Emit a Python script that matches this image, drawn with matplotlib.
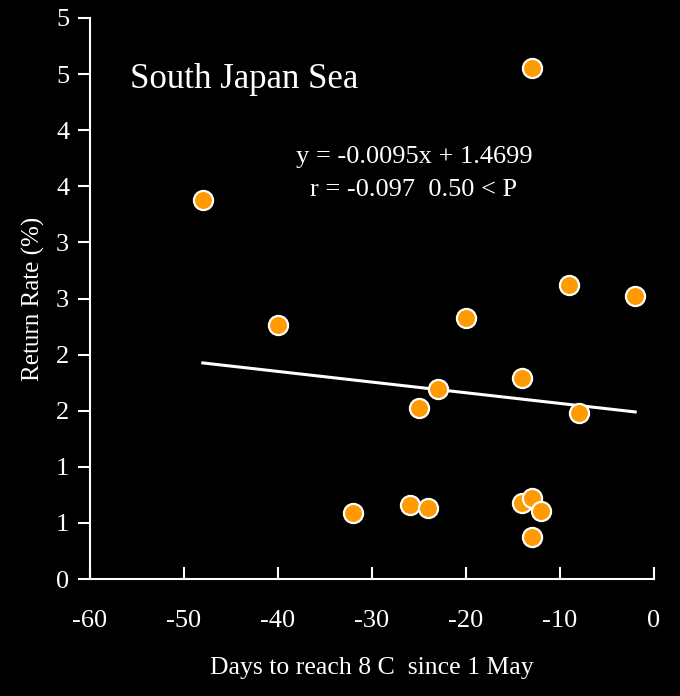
import matplotlib.pyplot as plt
from matplotlib.ticker import FuncFormatter, MultipleLocator

# days to reach 8 C since 1 May, and return rate (%)
days = [-48, -13, -40, -20, -9, -2, -14, -23, -25, -8, -32, -26, -24, -14, -13, -12, -13]
return_rate = [3.38, 4.55, 2.26, 2.33, 2.62, 2.52, 1.79, 1.69, 1.52, 1.48,
               0.59, 0.66, 0.63, 0.68, 0.72, 0.61, 0.37]

slope = -0.0095
intercept = 1.4699
fit_x = [min(days), max(days)]
fit_y = [slope * v + intercept for v in fit_x]

plt.rcParams['font.family'] = ['Liberation Serif', 'DejaVu Serif']

fig = plt.figure(figsize=(6.8, 6.96), dpi=100, facecolor='black')
ax = fig.add_axes([90 / 680, 117 / 696, 564 / 680, 561 / 696], facecolor='black')

ax.plot(fit_x, fit_y, color='white', lw=2.2, zorder=2)
ax.scatter(days, return_rate, s=190, color='#FF9A00', edgecolors='white',
           linewidths=1.6, zorder=3)

ax.set_xlim(-60, 0)
ax.set_ylim(0, 5)
ax.xaxis.set_major_locator(MultipleLocator(10))
ax.yaxis.set_major_locator(MultipleLocator(0.5))
# excel style "0" number format: labels rounded half up
ax.yaxis.set_major_formatter(FuncFormatter(lambda v, p: str(int(v + 0.5 + 1e-9))))
ax.xaxis.set_major_formatter(FuncFormatter(lambda v, p: '%d' % round(v)))

for s in ['top', 'right']:
    ax.spines[s].set_visible(False)
for s in ['left', 'bottom']:
    ax.spines[s].set_color('white')
    ax.spines[s].set_linewidth(1.5)

ax.tick_params(axis='y', direction='out', length=9, width=1.5, colors='white',
               labelsize=19, pad=6)
ax.tick_params(axis='x', direction='in', length=9, width=1.5, colors='white',
               labelsize=19, pad=22)

ax.set_xlabel('Days to reach 8 C  since 1 May', color='white', fontsize=18.5, labelpad=18)
ax.set_ylabel('Return Rate (%)', color='white', fontsize=18, labelpad=8)

fig.text(130 / 680, 1 - 80 / 696, 'South Japan Sea', color='white', fontsize=25,
         va='center', ha='left')
fig.text(414 / 680, 1 - 157 / 696, 'y = -0.0095x + 1.4699', color='white',
         fontsize=19, ha='center', va='center')
fig.text(414 / 680, 1 - 190 / 696, 'r = -0.097  0.50 < P', color='white',
         fontsize=19, ha='center', va='center')

fig.savefig('out.png', dpi=100, facecolor='black')
